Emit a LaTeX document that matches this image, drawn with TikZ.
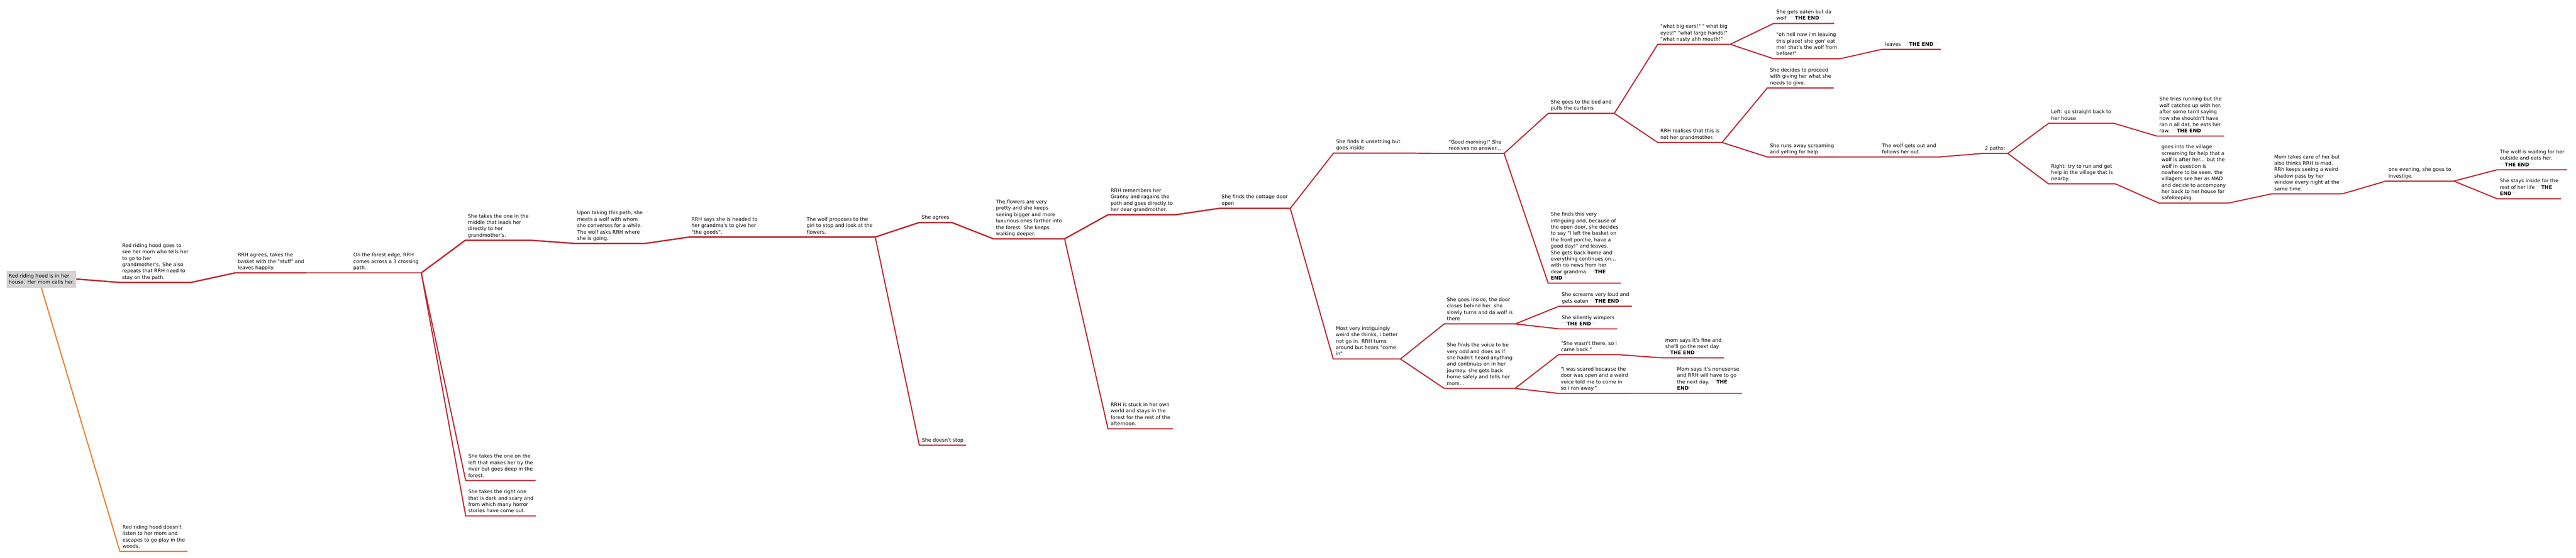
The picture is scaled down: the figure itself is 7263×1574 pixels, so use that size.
\documentclass[tikz,border=0pt]{standalone}
\usepackage{fontspec}
\setmainfont{DejaVu Sans}[Ligatures=TeXOff]
\definecolor{rrhred}{HTML}{BE2B33}
\definecolor{rrhorange}{HTML}{ED7D31}
\definecolor{rootgray}{HTML}{D3D3D3}
\definecolor{stargray}{HTML}{D8D8D8}
\newcommand{\stars}{\textcolor{stargray}{**}}
\newcommand{\theend}{\stars\textbf{THE END}\stars}

\begin{document}
\begin{tikzpicture}[x=0.5pt, y=-0.5pt,
    story/.style={anchor=south west, align=left, inner xsep=3.5pt, inner ysep=1.8pt,
      font=\fontsize{7}{9}\selectfont, execute at end node=\strut},
    rootbox/.style={anchor=north west, fill=rootgray, align=left, inner xsep=3pt,
      minimum height=24pt, font=\fontsize{7}{9}\selectfont},
    trunk/.style={draw=rrhred, line width=2pt},
    branch/.style={draw=rrhred, line width=1.6pt}]
  \useasboundingbox (0,0) rectangle (7263,1574);

  % start
  \node[rootbox] (home) at (18,763) {Red riding hood is in her\\house. Her mom calls her.};
  \node[story] (escape) at (338,1556) {Red riding hood doesn't\\listen to her mom and\\escapes to go play in the\\woods.};
  \node[story] (mom) at (337,797) {Red riding hood goes to\\see her mom who tells her\\to go to her\\grandmother's. She also\\repeats that RRH need to\\stay on the path.};
  \node[story] (basket) at (663,770) {RRH agrees, takes the\\basket with the "stuff" and\\leaves happily.};
  \node[story] (crossing) at (989,770) {On the forest edge, RRH\\comes across a 3 crossing\\path.};

  % three paths
  \node[story] (middle) at (1312,678) {She takes the one in the\\middle that leads her\\directly to her\\grandmother's.};
  \node[story] (river) at (1313,1356) {She takes the one on the\\left that makes her by the\\river but goes deep in the\\forest.};
  \node[story] (dark) at (1313,1456) {She takes the right one\\that is dark and scary and\\from which many horror\\stories have come out.};

  % the wolf
  \node[story] (wolfmeet) at (1620,687) {Upon taking this path, she\\meets a wolf with whom\\she converses for a while.\\The wolf asks RRH where\\she is going.};
  \node[story] (goods) at (1942,669) {RRH says she is headed to\\her grandma's to give her\\"the goods".};
  \node[story] (propose) at (2267,669) {The wolf proposes to the\\girl to stop and look at the\\flowers.};
  \node[story] (agree) at (2591,628) {She agrees};
  \node[story] (nostop) at (2592,1256) {She doesn't stop};
  \node[story] (flowers) at (2801,674) {The flowers are very\\pretty and she keeps\\seeing bigger and more\\luxurious ones farther into\\the forest. She keeps\\walking deeper.};
  \node[story] (granny) at (3124,606) {RRH remembers her\\Granny and ragains the\\path and goes directly to\\her dear grandmother.};
  \node[story] (stuck) at (3124,1210) {RRH is stuck in her own\\world and stays in the\\forest for the rest of the\\afternoon.};
  \node[story] (door) at (3437,588) {She finds the cottage door\\open};

  % inside the cottage
  \node[story] (unsettle) at (3760,432) {She finds it unsettling but\\goes inside.};
  \node[story] (morning) at (4077,433) {"Good morning!" She\\receives no answer...};
  \node[story] (bed) at (4365,320) {She goes to the bed and\\pulls the curtains};
  \node[story] (porche) at (4365,799) {She finds this very\\intriguing and, because of\\the open door, she decides\\to say "I left the basket on\\the front porche, have a\\good day!" and leaves.\\She gets back home and\\everything continues on...\\with no news from her\\dear grandma. \stars\textbf{THE}\\\textbf{END}\stars};
  \node[story] (ears) at (4674,125) {"what big ears!" " what big\\eyes!" "what large hands!"\\"what nasty ahh mouth!"};
  \node[story] (realise) at (4674,402) {RRH realises that this is\\not her grandmother.};
  \node[story] (eaten) at (5001,66) {She gets eaten but da\\wolf. \theend};
  \node[story] (hellnaw) at (5001,166) {"oh hell naw i'm leaving\\this place! she gon' eat\\me! that's the wolf from\\before!"};
  \node[story] (leaves) at (5307,139) {leaves\ \ \theend};
  \node[story] (proceed) at (4983,248) {She decides to proceed\\with giving her what she\\needs to give.};
  \node[story] (runaway) at (4983,443) {She runs away screaming\\and yelling for help};
  \node[story] (follows) at (5299,443) {The wolf gets out and\\follows her out.};
  \node[story] (twopaths) at (5589,433) {2 paths:};
  \node[story] (goback) at (5776,348) {Left: go straight back to\\her house};
  \node[story] (village) at (5776,519) {Right: try to run and get\\help in the village that is\\nearby.};
  \node[story] (raw) at (6081,384) {She tries running but the\\wolf catches up with her.\\after some taml saying\\how she shouldn't have\\ran n all dat, he eats her\\raw. \theend};
  \node[story] (mad) at (6087,573) {goes into the village\\screaming for help that a\\wolf is after her... but the\\wolf in question is\\nowhere to be seen. the\\villagers see her as MAD\\and decide to accompany\\her back to her house for\\safekeeping.};
  \node[story] (shadow) at (6405,547) {Mom takes care of her but\\also thinks RRH is mad.\\RRh keeps seeing a weird\\shadow pass by her\\window every night at the\\same time.};
  \node[story] (evening) at (6727,511) {one evening, she goes to\\investige.};
  \node[story] (waiting) at (7041,479) {The wolf is waiting for her\\outside and eats her.\\\theend};
  \node[story] (inside) at (7041,561) {She stays inside for the\\rest of her life \stars\textbf{THE}\\\textbf{END}\stars};

  % not going in
  \node[story] (comein) at (3759,1013) {Most very intriguingly\\weird she thinks, i better\\not go in. RRH turns\\around but hears "come\\in"};
  \node[story] (closes) at (4072,914) {She goes inside, the door\\closes behind her. she\\slowly turns and da wolf is\\there};
  \node[story] (odd) at (4072,1096) {She finds the voice to be\\very odd and does as if\\she hadn't heard anything\\and continues on in her\\journey. she gets back\\home safely and tells her\\mom...};
  \node[story] (screams) at (4396,864) {She screams very loud and\\gets eaten \theend};
  \node[story] (wimpers) at (4396,928) {She sillently wimpers\\\theend};
  \node[story] (notthere) at (4394,1001) {"She wasn't there, so i\\came back."};
  \node[story] (scared) at (4393,1110) {"I was scared because the\\door was open and a weird\\voice told me to come in\\so i ran away."};
  \node[story] (fine) at (4688,1010) {mom says it's fine and\\she'll go the next day.\\\theend};
  \node[story] (nonsense) at (4721,1110) {Mom says it's nonesense\\and RRH will have to go\\the next day. \stars\textbf{THE}\\\textbf{END}\stars};

  % connectors, each one running on as the child's underline
  \draw[trunk] (home.east) -- (mom.south west) -- (mom.south east);
  \draw[branch, draw=rrhorange] (home.south) -- (escape.south west) -- (escape.south east);
  \foreach \from/\to in {mom/basket, basket/crossing, crossing/middle, middle/wolfmeet,
      wolfmeet/goods, goods/propose, propose/agree, agree/flowers, flowers/granny, granny/door}
    \draw[trunk] (\from.south east) -- (\to.south west) -- (\to.south east);
  \foreach \from/\to in {crossing/river, crossing/dark, propose/nostop, flowers/stuck,
      door/unsettle, door/comein, unsettle/morning, morning/bed, morning/porche,
      bed/ears, bed/realise, ears/eaten, ears/hellnaw, hellnaw/leaves,
      realise/proceed, realise/runaway, runaway/follows, follows/twopaths,
      twopaths/goback, twopaths/village, goback/raw, village/mad, mad/shadow,
      shadow/evening, evening/waiting, evening/inside,
      comein/closes, comein/odd, closes/screams, closes/wimpers,
      odd/notthere, odd/scared, notthere/fine, scared/nonsense}
    \draw[branch] (\from.south east) -- (\to.south west) -- (\to.south east);
\end{tikzpicture}
\end{document}
